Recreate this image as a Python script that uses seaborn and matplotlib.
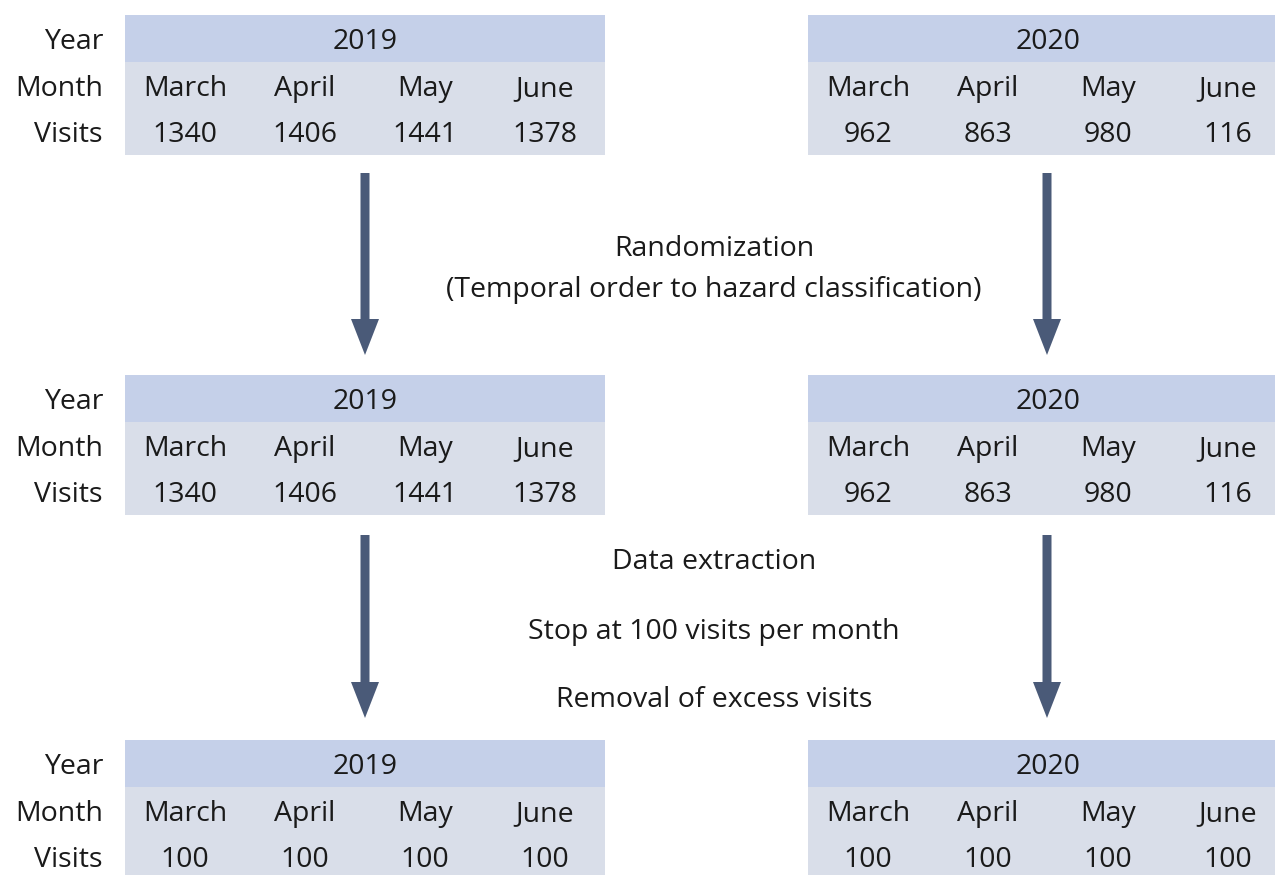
import matplotlib.pyplot as plt
import seaborn as sns

sns.set_theme(style="white")
plt.rcParams['font.family'] = ['Open Sans', 'DejaVu Sans']

years = ["2019", "2020"]
months = ["March", "April", "May", "June"]
row_labels = ["Year", "Month", "Visits"]
visits_raw = {"2019": [1340, 1406, 1441, 1378], "2020": [962, 863, 980, 116]}
visits_randomized = {"2019": [1340, 1406, 1441, 1378], "2020": [962, 863, 980, 116]}
visits_final = {"2019": [100, 100, 100, 100], "2020": [100, 100, 100, 100]}
stages = [visits_raw, visits_randomized, visits_final]
step_texts = [["Randomization", "(Temporal order to hazard classification)"],
              ["Data extraction", "Stop at 100 visits per month", "Removal of excess visits"]]

header_col = "#c5d0e9"
body_col = "#d9dee9"
arrow_col = "#4a5a78"
txt_col = "#1a1a1a"
fs = 20.5

fig = plt.figure(figsize=(12.75, 8.75), dpi=100)
ax = fig.add_axes([0, 0, 1, 1])
ax.set_xlim(0, 1275)
ax.set_ylim(875, 0)
ax.axis('off')

table_x = {"2019": 125, "2020": 808}
table_y = [15, 375, 740]
col_w = 120
head_h = 47
body_h = 93

for stage, top in zip(stages, table_y):
    ax.text(103, top + 27, row_labels[0], ha='right', va='center', fontsize=fs, color=txt_col)
    ax.text(103, top + 74, row_labels[1], ha='right', va='center', fontsize=fs, color=txt_col)
    ax.text(103, top + 120, row_labels[2], ha='right', va='center', fontsize=fs, color=txt_col)
    for yr in years:
        x0 = table_x[yr]
        w = col_w * len(months)
        ax.add_patch(plt.Rectangle((x0, top), w, head_h, color=header_col, lw=0))
        ax.add_patch(plt.Rectangle((x0, top + head_h), w, body_h, color=body_col, lw=0))
        ax.text(x0 + w / 2, top + 27, yr, ha='center', va='center', fontsize=fs, color=txt_col)
        for i, (m, v) in enumerate(zip(months, stage[yr])):
            cx = x0 + col_w * (i + 0.5)
            ax.text(cx, top + 74, m, ha='center', va='center', fontsize=fs, color=txt_col)
            ax.text(cx, top + 120, str(v), ha='center', va='center', fontsize=fs, color=txt_col)

# arrows between stages
arrow_spans = [(173, 355), (535, 718)]
for y0, y1 in arrow_spans:
    for cx in (365, 1047):
        ax.arrow(cx, y0, 0, y1 - y0, width=9, head_width=28, head_length=36,
                 length_includes_head=True, color=arrow_col, lw=0)

for ty, t in zip([249, 290], step_texts[0]):
    ax.text(714, ty, t, ha='center', va='center', fontsize=fs, color=txt_col)
for ty, t in zip([562, 632, 700], step_texts[1]):
    ax.text(714, ty, t, ha='center', va='center', fontsize=fs, color=txt_col)

fig.savefig("out.png", dpi=100)
